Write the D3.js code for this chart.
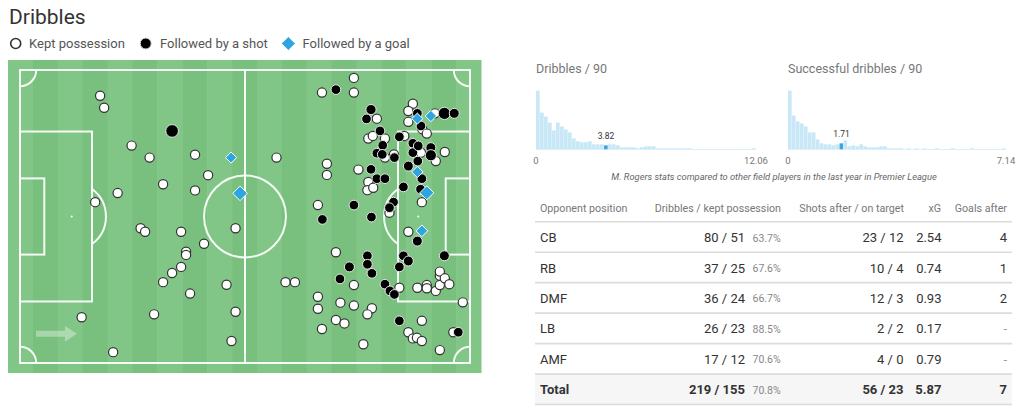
<!DOCTYPE html>
<html><head><meta charset="utf-8">
<script src="https://cdn.jsdelivr.net/npm/d3@7"></script>
<style>
body{margin:0;background:#fff;font-family:Roboto,"Noto Sans",sans-serif;}
svg{display:block}
</style></head><body>
<svg id="c" width="1024" height="412"></svg>
<script>
// ---------- DATA ----------
// pitch coordinates 0-100 (x: own goal -> opponent goal, y: top -> bottom)
const keptPossession = [
[17.8,8.8],[18.7,12.9],[24.8,25.8],[28.8,29.9],[38.9,28.9],[41.8,35.9],[31.8,39.0],[38.9,41.1],[21.7,42.0],[16.7,45.1],
[26.8,54.0],[27.8,55.2],[35.8,55.2],[47.9,54.0],[40.9,59.3],[36.9,62.0],[36.9,63.1],[35.8,67.2],[33.8,69.3],[31.8,72.4],
[37.8,76.3],[45.9,73.3],[47.9,82.5],[13.7,84.4],[29.8,83.4],[47.0,92.5],[20.7,96.3],
[74.2,2.7],[67.1,7.7],[74.2,7.7],[57.0,29.9],[68.2,32.0],[68.2,35.8],[75.2,34.0],[66.2,46.1],
[79.3,16.6],[87.3,11.5],[86.3,14.0],[86.3,17.7],[92.2,14.8],[89.4,20.2],[90.4,21.7],[77.4,23.4],[78.4,22.5],[81.1,23.4],
[81.1,29.9],[83.1,28.8],[85.4,22.5],[89.1,28.2],[92.4,31.1],[94.4,28.0],[89.3,45.1],[77.4,38.2],[77.2,41.0],[78.5,40.2],
[82.1,48.7],[86.3,55.2],[84.3,74.3],[88.3,74.3],[90.4,73.4],[90.4,74.5],[92.4,75.4],[93.3,73.4],[93.3,70.2],[93.3,68.8],
[94.4,71.1],[95.4,73.1],[98.4,79.3],[78.2,81.3],[77.2,83.4],[89.3,85.6],[86.3,89.5],[87.3,91.6],[88.2,91.4],[89.3,92.5],
[96.3,89.5],[93.3,95.6],[76.3,93.6],[70.2,62.2],[74.2,73.4],[59.0,72.4],[61.1,72.4],[66.2,77.4],[66.2,81.5],[71.2,79.4],
[74.2,80.4],[70.2,85.3],[72.1,86.5],[67.1,88.4]
];
// [x, y, size estimate]
const followedByShot = [
[33.8,20.8,0.35],[70.2,6.7,0.05],[78.0,13.5,0.1],[77.0,16.7,0.05],[88.3,14.8,0.05],[94.3,14.8,0.3],[96.5,14.8,0.08],
[89.1,19.1,0.05],[80.0,20.8,0.05],[80.6,25.7,0.05],[79.3,28.4,0.05],[83.2,29.9,0.05],[80.5,28.8,0.05],[84.3,22.8,0.05],
[87.3,25.0,0.05],[87.3,28.2,0.05],[88.5,25.9,0.05],[91.3,26.5,0.08],[91.3,29.1,0.2],[88.4,31.1,0.05],[86.3,32.8,0.08],
[89.3,37.1,0.05],[89.0,40.7,0.05],[85.2,39.9,0.05],[78.0,33.9,0.05],[79.3,37.1,0.05],[81.1,37.1,0.05],[83.0,45.1,0.05],
[82.1,47.0,0.05],[78.1,50.2,0.05],[74.2,46.1,0.05],[67.2,51.0,0.05],[88.3,58.4,0.08],[94.3,63.4,0.08],[77.2,63.4,0.05],
[77.2,66.3,0.05],[78.2,69.4,0.05],[85.2,63.4,0.05],[86.3,65.2,0.08],[84.3,67.2,0.05],[81.1,73.1,0.05],[82.2,75.4,0.05],
[83.2,76.6,0.05],[84.3,85.6,0.05],[97.4,89.5,0.05],[73.2,67.2,0.08],[71.1,71.3,0.05]
];
const followedByGoal = [
[46.9,29.9,0.1],[48.9,42.1,0.4],[88.3,16.6,0.1],[91.3,15.7,0.12],[88.3,34.8,0.12],[90.4,41.9,0.35],[89.3,54.9,0.15]
];
const legendLabels = ["Kept possession","Followed by a shot","Followed by a goal"];

const dribblesPer90 = [59,37,33,27,19,27,23,20,17,11, 8,7,7,8,5,5,5,4,5,5, 4,2,2,2,2,1,2,3,3,3, 1,1,1,1,1,1,1,1,1,0, 0,0,0,0,0,0,0,0,0,0, 0,0,0,0,1];
const successfulPer90 = [59,34,28,26,23,17,17,10,6,5, 5,4,5,6,9,3,4,3,5,3, 2,2,2,3,3,1,1,1,1,0, 1,0,1,0,1,0,0,1,0,0, 0,1,0,0,0,0,1,0,0,0, 0,0,0,0,1];
const histTitles = ["Dribbles / 90","Successful dribbles / 90"];
const histMax = [12.06, 7.14];
const playerValues = [3.82, 1.71];
const noteText = "M. Rogers stats compared to other field players in the last year in Premier League";

const tableHeaders = ["Opponent position","Dribbles / kept possession","Shots after / on target","xG","Goals after"];
const positions = ["CB","RB","DMF","LB","AMF","Total"];
const dribbles = [80,37,36,26,17,219];
const keptPoss = [51,25,24,23,12,155];
const keptPct = [63.7,67.6,66.7,88.5,70.6,70.8];
const shotsAfter = [23,10,12,2,4,56];
const onTarget = [12,4,3,2,0,23];
const xgAfter = [2.54,0.74,0.93,0.17,0.79,5.87];
const goalsAfter = [4,1,2,null,null,7];

// ---------- DRAW ----------
const svg = d3.select("#c");
const FONT = "Roboto, 'Noto Sans', sans-serif";

svg.append("text").attr("x",9).attr("y",24).attr("font-size",21).attr("fill","#333")
  .attr("font-family",FONT).text("Dribbles");

// legend
const lg = svg.append("g").attr("font-family",FONT).attr("font-size",13).attr("fill","#555");
lg.append("circle").attr("cx",15.7).attr("cy",43.5).attr("r",5).attr("fill","#fff").attr("stroke","#333").attr("stroke-width",1.6);
lg.append("text").attr("x",29).attr("y",48).text(legendLabels[0]);
lg.append("circle").attr("cx",145.7).attr("cy",43.5).attr("r",5.5).attr("fill","#000").attr("stroke","#ddd").attr("stroke-width",1);
lg.append("text").attr("x",160).attr("y",48).text(legendLabels[1]);
lg.append("path").attr("transform","translate(288.3,43.5)").attr("d","M0,-7L7,0L0,7L-7,0Z").attr("fill","#2ea5df").attr("stroke","#fff").attr("stroke-width",1);
lg.append("text").attr("x",302.5).attr("y",48).text(legendLabels[2]);

// pitch
const xS = d3.scaleLinear().domain([0,100]).range([20,470]);
const yS = d3.scaleLinear().domain([0,100]).range([70,363]);
const pitch = svg.append("g");
const OX0=8, OX1=481, OY0=60, OY1=373, NS=19;
const sw = (OX1-OX0)/NS;
pitch.selectAll("rect.stripe").data(d3.range(NS)).join("rect")
  .attr("x",i=>OX0+i*sw).attr("y",OY0).attr("width",sw+0.5).attr("height",OY1-OY0)
  .attr("fill",i=> i%2===0 ? "#81c686" : "#79c07e");

const L = pitch.append("g").attr("fill","none").attr("stroke","#fff").attr("stroke-opacity",0.92).attr("stroke-width",2);
L.append("rect").attr("x",xS(0)).attr("y",yS(0)).attr("width",xS(100)-xS(0)).attr("height",yS(100)-yS(0));
L.append("line").attr("x1",xS(50)).attr("x2",xS(50)).attr("y1",yS(0)).attr("y2",yS(100));
const rC = xS(9.1)-xS(0);
L.append("circle").attr("cx",xS(50)).attr("cy",yS(50)).attr("r",rC);
// boxes
[[0,16,21,79],[84,100,21,79],[0,5.4,37,63],[94.6,100,37,63]].forEach(b=>{
  L.append("rect").attr("x",xS(b[0])).attr("y",yS(b[2])).attr("width",xS(b[1])-xS(b[0])).attr("height",yS(b[3])-yS(b[2]));
});
// penalty arcs
const rA = xS(7.6)-xS(0);
const spotL = xS(11.5), spotR = xS(88.5);
const a0 = Math.asin((xS(16)-spotL)/rA);
const arc = d3.arc().innerRadius(rA).outerRadius(rA);
L.append("path").attr("transform",`translate(${spotL},${yS(50)})`).attr("d",arc({startAngle:a0,endAngle:Math.PI-a0}));
L.append("path").attr("transform",`translate(${spotR},${yS(50)})`).attr("d",arc({startAngle:-Math.PI+a0,endAngle:-a0}));
// corners
const rK = xS(3.6)-xS(0);
const karc = d3.arc().innerRadius(rK).outerRadius(rK);
[[0,0,Math.PI/2,Math.PI],[100,0,Math.PI,1.5*Math.PI],[0,100,0,Math.PI/2],[100,100,-Math.PI/2,0]].forEach(c=>{
  L.append("path").attr("transform",`translate(${xS(c[0])},${yS(c[1])})`).attr("d",karc({startAngle:c[2],endAngle:c[3]}));
});
// spots
[11.5,50,88.5].forEach(x=>{
  pitch.append("circle").attr("cx",xS(x)).attr("cy",yS(50)).attr("r",1).attr("fill","#fff");
});
// direction arrow
pitch.append("path").attr("d","M36,330.7H65V326L77,333.7L65,341.7V336.7H36Z")
  .attr("fill","#fff").attr("fill-opacity",0.35);

// points
const rShot = d3.scaleLinear().domain([0,0.4]).range([4.6,6.6]);
const rGoal = d3.scaleLinear().domain([0,0.4]).range([5,7.3]);
const P = svg.append("g");
P.selectAll("circle.k").data(keptPossession).join("circle").attr("class","k")
  .attr("cx",d=>xS(d[0])).attr("cy",d=>yS(d[1])).attr("r",4.6)
  .attr("fill","#fff").attr("stroke","#333").attr("stroke-width",1.2);
P.selectAll("circle.s").data(followedByShot).join("circle").attr("class","s")
  .attr("cx",d=>xS(d[0])).attr("cy",d=>yS(d[1])).attr("r",d=>rShot(d[2]))
  .attr("fill","#000").attr("stroke","#e8e8e8").attr("stroke-width",1);
P.selectAll("path.g").data(followedByGoal).join("path").attr("class","g")
  .attr("transform",d=>`translate(${xS(d[0])},${yS(d[1])})`)
  .attr("d",d=>{const s=rGoal(d[2]);return `M0,${-s}L${s},0L0,${s}L${-s},0Z`;})
  .attr("fill","#2ea5df").attr("stroke","#fff").attr("stroke-width",1);

// histograms
const histData = [dribblesPer90, successfulPer90];
const histRanges = [[536,756],[788,1006]];
histData.forEach((counts,k)=>{
  const g = svg.append("g").attr("font-family",FONT);
  const [r0,r1] = histRanges[k];
  const hx = d3.scaleLinear().domain([0,histMax[k]]).range([r0,r1]);
  const hy = d3.scaleLinear().domain([0,d3.max(counts)]).range([149.3,90.7]);
  const bw = histMax[k]/counts.length;
  const hi = Math.floor(playerValues[k]/bw);
  g.append("text").attr("x",r0).attr("y",73).attr("font-size",12.5).attr("fill","#777").text(histTitles[k]);
  g.append("line").attr("x1",r0).attr("x2",r1).attr("y1",149.5).attr("y2",149.5).attr("stroke","#e3f2fa").attr("stroke-width",1);
  g.selectAll("rect").data(counts).join("rect")
    .attr("x",(d,i)=>hx(i*bw)).attr("width",hx(bw)-hx(0)-0.3)
    .attr("y",d=>hy(Math.max(d,0.3))).attr("height",d=>149.3-hy(Math.max(d,0.3)))
    .attr("fill",(d,i)=> i===hi ? "#3ba7de" : "#c8e7f7");
  g.append("text").attr("x",hx((hi+0.5)*bw)).attr("y",hy(counts[hi])-6).attr("text-anchor","middle")
    .attr("font-size",8.5).attr("fill","#333").text(playerValues[k].toFixed(2));
  g.append("text").attr("x",hx(0)).attr("y",164).attr("text-anchor","middle").attr("font-size",9.5).attr("fill","#777").text("0");
  g.append("text").attr("x",hx(histMax[k])).attr("y",164).attr("text-anchor","middle").attr("font-size",9.5).attr("fill","#777").text(histMax[k].toFixed(2));
});
svg.append("text").attr("x",774).attr("y",179.5).attr("text-anchor","middle").attr("font-family",FONT)
  .attr("font-style","italic").attr("font-size",9.3).attr("fill","#666").text(noteText);

// table
const T = svg.append("g").attr("font-family",FONT);
const tx0 = 535, tx1 = 1012;
const lineYs = [221.7,252.2,282.6,313.1,343.6,374.1,404.5];
T.append("rect").attr("x",tx0).attr("y",lineYs[5]).attr("width",tx1-tx0).attr("height",lineYs[6]-lineYs[5]).attr("fill","#f6f6f6");
T.selectAll("line").data(lineYs).join("line").attr("x1",tx0).attr("x2",tx1).attr("y1",d=>d).attr("y2",d=>d)
  .attr("stroke","#dcdcdc").attr("stroke-width",1.6);
const hdrX = [[540,"start"],[781,"end"],[904,"end"],[941,"end"],[1007,"end"]];
tableHeaders.forEach((h,i)=>{
  T.append("text").attr("x",hdrX[i][0]).attr("y",211.5).attr("text-anchor",hdrX[i][1])
    .attr("font-size",10.7).attr("fill","#777").text(h);
});
positions.forEach((p,i)=>{
  const y = lineYs[i]+20.3;
  const bold = i===positions.length-1 ? 700 : 400;
  const row = T.append("g").attr("font-weight",bold).attr("fill","#333").attr("font-size",13);
  row.append("text").attr("x",540).attr("y",y).text(p);
  row.append("text").attr("x",745).attr("y",y).attr("text-anchor","end").text(`${dribbles[i]} / ${keptPoss[i]}`);
  row.append("text").attr("x",752.5).attr("y",y-0.5).attr("font-size",10.5).attr("font-weight",400).attr("fill","#888").text(keptPct[i].toFixed(1)+"%");
  row.append("text").attr("x",903.5).attr("y",y).attr("text-anchor","end").text(`${shotsAfter[i]} / ${onTarget[i]}`);
  row.append("text").attr("x",941.5).attr("y",y).attr("text-anchor","end").text(xgAfter[i].toFixed(2));
  row.append("text").attr("x",1007).attr("y",y).attr("text-anchor","end")
    .attr("fill",goalsAfter[i]==null?"#999":"#333").text(goalsAfter[i]==null?"-":goalsAfter[i]);
});
</script>
</body></html>
